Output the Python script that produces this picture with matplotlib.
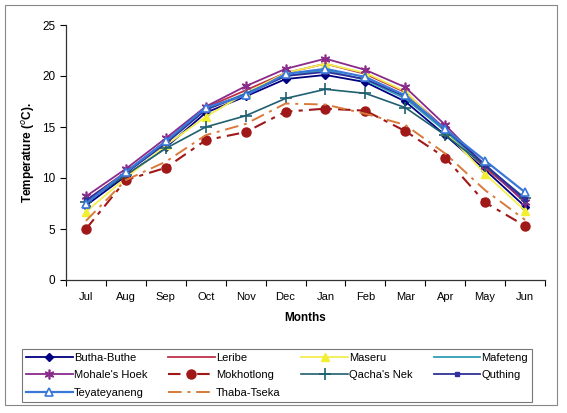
import matplotlib
matplotlib.use("Agg")
import matplotlib.pyplot as plt
from matplotlib.patches import Rectangle

plt.rcParams['font.family'] = ['Liberation Sans', 'DejaVu Sans']

months = ["Jul", "Aug", "Sep", "Oct", "Nov", "Dec", "Jan", "Feb", "Mar", "Apr", "May", "Jun"]

butha_buthe  = [7.3, 10.2, 13.0, 16.4, 18.0, 19.7, 20.1, 19.4, 17.5, 14.2, 10.8, 7.2]
leribe       = [7.8, 10.6, 13.6, 16.9, 18.6, 20.3, 21.2, 20.2, 18.4, 14.8, 11.0, 7.8]
maseru       = [6.7, 10.0, 13.2, 16.0, 18.3, 20.3, 21.2, 20.3, 18.5, 14.6, 10.4, 6.8]
mafeteng     = [7.6, 10.5, 13.4, 16.7, 18.3, 20.0, 20.6, 19.6, 17.8, 14.6, 11.2, 8.0]
mohales_hoek = [8.2, 10.9, 13.9, 17.0, 19.0, 20.7, 21.7, 20.6, 18.9, 15.2, 11.2, 7.6]
mokhotlong   = [5.0, 9.8, 11.0, 13.7, 14.5, 16.5, 16.8, 16.6, 14.6, 12.0, 7.6, 5.3]
qachas_nek   = [7.6, 10.3, 12.9, 15.0, 16.1, 17.8, 18.7, 18.3, 16.9, 14.2, 11.2, 8.0]
quthing      = [7.8, 10.5, 13.4, 16.7, 18.2, 20.0, 20.4, 19.7, 18.0, 14.8, 11.3, 7.9]
teyateyaneng = [7.5, 10.6, 13.6, 16.9, 18.1, 20.2, 20.7, 19.9, 18.1, 14.8, 11.7, 8.6]
thaba_tseka  = [5.8, 9.8, 11.6, 14.2, 15.3, 17.3, 17.2, 16.3, 15.2, 12.4, 8.8, 5.9]

yticks = [0, 5, 10, 15, 20, 25]

fig = plt.figure(figsize=(5.67, 4.13), dpi=100)
ax = fig.add_axes([66/567, 1-280/413, (545-66)/567, (280-25)/413])

x = list(range(len(months)))

h = {}
h['Butha-Buthe'], = ax.plot(x, butha_buthe, color='#000080', lw=1.3, marker='D', ms=4, mfc='#000080', mec='#000080')
h['Leribe'], = ax.plot(x, leribe, color='#c0304a', lw=1.3)
h['Maseru'], = ax.plot(x, maseru, color='#f2ee50', lw=1.3, marker='^', ms=6, mfc='#f2ee30', mec='#f2ee30')
h['Mafeteng'], = ax.plot(x, mafeteng, color='#2f9fb8', lw=1.3)
h['Mohale\'s Hoek'], = ax.plot(x, mohales_hoek, color='#8a2a8a', lw=1.3, marker=(6, 2, 0), ms=7, mec='#8a2a8a', mew=1.2)
h['Mokhotlong'], = ax.plot(x, mokhotlong, color='#a01818', lw=1.5, dashes=(6, 3, 2, 3), marker='o', ms=6.5, mfc='#a01818', mec='#a01818')
h['Qacha\'s Nek'], = ax.plot(x, qachas_nek, color='#1f6070', lw=1.2, marker='+', ms=8, mew=1.2)
h['Quthing'], = ax.plot(x, quthing, color='#30309a', lw=1.3, marker='s', ms=2.5, mfc='#30309a')
h['Teyateyaneng'], = ax.plot(x, teyateyaneng, color='#3a78d8', lw=1.6, marker='^', ms=6, mfc='white', mec='#3a78d8', mew=1.2)
h['Thaba-Tseka'], = ax.plot(x, thaba_tseka, color='#d87a3a', lw=1.4, dashes=(7, 3, 1.5, 3))

ax.set_xlim(-0.5, len(months) - 0.5)
ax.set_ylim(0, 25)
ax.set_yticks(yticks)
ax.set_xticks(x)
ax.set_xticklabels(months, fontsize=8)
ax.set_xticks([i - 0.5 for i in range(len(months) + 1)], minor=True)
ax.tick_params(axis='x', which='major', length=0, pad=9)
ax.tick_params(axis='x', which='minor', length=4, direction='out', width=0.8)
ax.tick_params(axis='y', length=4, direction='out', labelsize=8.5, width=0.8)
for s in ['top', 'right']:
    ax.spines[s].set_visible(False)
for s in ['left', 'bottom']:
    ax.spines[s].set_color('#333333')
    ax.spines[s].set_linewidth(0.9)

ax.set_xlabel('Months', fontsize=8.5, fontweight='bold', labelpad=7)
ax.set_ylabel('Temperature ($^{o}$C).', fontsize=8.5, fontweight='bold', labelpad=4)

order = ['Butha-Buthe', 'Mohale\'s Hoek', 'Teyateyaneng', 'Leribe', 'Mokhotlong', 'Thaba-Tseka',
         'Maseru', 'Qacha\'s Nek', 'Mafeteng', 'Quthing']
leg = fig.legend([h[k] for k in order], order, ncol=4, loc='lower left',
                 bbox_to_anchor=(22/567, 1-402/413, (532-22)/567, 62/413), mode='expand',
                 fontsize=8, frameon=True, fancybox=False, edgecolor='#555555',
                 handlelength=4.2, handletextpad=0.1, columnspacing=0.6, labelspacing=0.7,
                 borderaxespad=0, borderpad=0.35)
leg.get_frame().set_linewidth(0.8)

fig.patches.append(Rectangle((5/567, 8/413), 552/567, 400/413, transform=fig.transFigure,
                             fill=False, edgecolor='#888888', lw=0.8))

fig.savefig('out.png', dpi=100)
